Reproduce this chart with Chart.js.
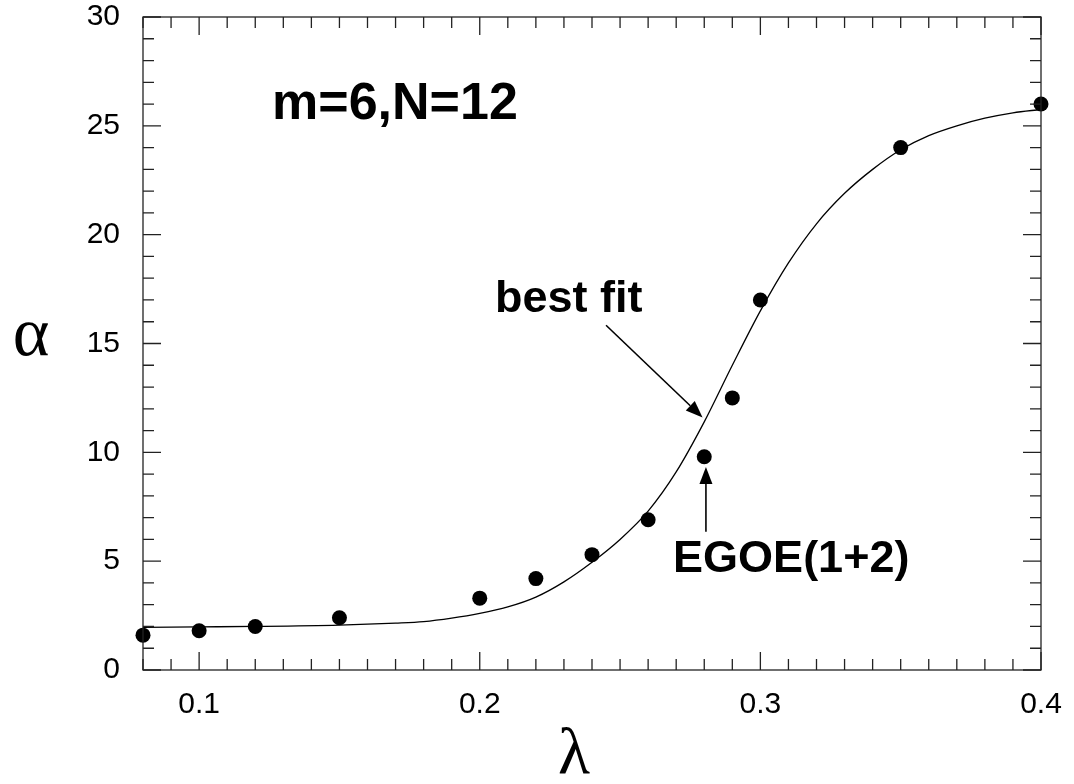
<!DOCTYPE html>
<html>
<head>
<meta charset="utf-8">
<script src="https://cdn.jsdelivr.net/npm/chart.js@4/dist/chart.umd.min.js"></script>
<style>
    body { margin: 0; background: #fff; }
    canvas { display: block; }
</style>
</head>
<body>
<canvas id="alphaChart" width="1074" height="784"></canvas>
<script>
// EGOE(1+2) results, alpha vs lambda
const lambdaVals = [0.08, 0.10, 0.12, 0.15, 0.20, 0.22, 0.24, 0.26, 0.28, 0.29, 0.30, 0.35, 0.40];
const alphaVals  = [1.6, 1.8, 2.0, 2.4, 3.3, 4.2, 5.3, 6.9, 9.8, 12.5, 17.0, 24.0, 26.0];

// best fit curve, sampled
const fitX = [0.08, 0.10, 0.12, 0.15, 0.17, 0.18, 0.19, 0.20, 0.21, 0.22, 0.23, 0.24, 0.25, 0.26, 0.27, 0.28, 0.29, 0.30, 0.31, 0.32, 0.33, 0.34, 0.35, 0.36, 0.37, 0.38, 0.39, 0.40];
const fitY = [1.96, 1.98, 2.0, 2.06, 2.15, 2.22, 2.38, 2.6, 2.9, 3.35, 4.05, 4.95, 6.0, 7.3, 9.1, 11.4, 14.0, 16.5, 18.7, 20.5, 21.9, 23.0, 23.9, 24.55, 25.0, 25.35, 25.6, 25.75];

const xTickLabels = [0.1, 0.2, 0.3, 0.4];
const yTickLabels = [0, 5, 10, 15, 20, 25, 30];

const TICK_FONT = { family: "'Liberation Sans', Arial, sans-serif", size: 30 };
const MAJOR_LEN = 18;
const MINOR_LEN = 11;

function arrow(ctx, x1, y1, x2, y2) {
    const ang = Math.atan2(y2 - y1, x2 - x1);
    const len = 17, half = 6.5;
    const bx = x2 - len * Math.cos(ang), by = y2 - len * Math.sin(ang);
    ctx.beginPath();
    ctx.moveTo(x1, y1);
    ctx.lineTo(bx, by);
    ctx.stroke();
    ctx.beginPath();
    ctx.moveTo(x2, y2);
    ctx.lineTo(bx + half * Math.sin(ang), by - half * Math.cos(ang));
    ctx.lineTo(bx - half * Math.sin(ang), by + half * Math.cos(ang));
    ctx.closePath();
    ctx.fill();
}

// frame with inward ticks on all sides, labels, arrows
const framePlugin = {
    id: "frame",
    afterDraw(chart) {
        const { ctx, chartArea: a, scales: { x, y } } = chart;
        ctx.save();
        ctx.strokeStyle = "#222";
        ctx.fillStyle = "#000";
        ctx.lineWidth = 1.3;
        ctx.strokeRect(a.left, a.top, a.right - a.left, a.bottom - a.top);

        ctx.beginPath();
        for (let i = 8; i <= 40; i++) {
            const px = x.getPixelForValue(i / 100);
            const len = i % 10 === 0 ? MAJOR_LEN : MINOR_LEN;
            ctx.moveTo(px, a.bottom); ctx.lineTo(px, a.bottom - len);
            ctx.moveTo(px, a.top); ctx.lineTo(px, a.top + len);
        }
        for (let v = 0; v <= 30; v++) {
            const py = y.getPixelForValue(v);
            const len = v % 5 === 0 ? MAJOR_LEN : MINOR_LEN;
            ctx.moveTo(a.left, py); ctx.lineTo(a.left + len, py);
            ctx.moveTo(a.right, py); ctx.lineTo(a.right - len, py);
        }
        ctx.stroke();

        // annotations
        ctx.fillStyle = "#000";
        ctx.textAlign = "left";
        ctx.textBaseline = "alphabetic";
        ctx.font = "bold 52px 'Liberation Sans', Arial, sans-serif";
        ctx.fillText("m=6,N=12", x.getPixelForValue(0.126), y.getPixelForValue(25.3));
        ctx.font = "bold 45px 'Liberation Sans', Arial, sans-serif";
        ctx.fillText("best fit", x.getPixelForValue(0.2054), y.getPixelForValue(16.44));
        ctx.fillText("EGOE(1+2)", x.getPixelForValue(0.2689), y.getPixelForValue(4.5));

        ctx.strokeStyle = "#000";
        ctx.lineWidth = 1.6;
        arrow(ctx, x.getPixelForValue(0.245), y.getPixelForValue(15.84),
                   x.getPixelForValue(0.2794), y.getPixelForValue(11.6));
        arrow(ctx, x.getPixelForValue(0.2806), y.getPixelForValue(6.35),
                   x.getPixelForValue(0.2806), y.getPixelForValue(9.33));

        // axis symbols
        ctx.textAlign = "center";
        ctx.textBaseline = "middle";
        ctx.font = "70px 'Liberation Serif', 'Times New Roman', serif";
        ctx.fillText("\u03b1", 31, y.getPixelForValue(15.3));
        ctx.font = "66px 'Liberation Serif', 'Times New Roman', serif";
        ctx.fillText("\u03bb", (a.left + a.right) / 2 - 18, 756);
        ctx.restore();
    }
};

new Chart(document.getElementById("alphaChart"), {
    type: "scatter",
    data: {
        datasets: [
            {
                label: "best fit",
                data: fitX.map((v, i) => ({ x: v, y: fitY[i] })),
                showLine: true,
                borderColor: "#000",
                borderWidth: 1.3,
                pointRadius: 0,
                cubicInterpolationMode: "monotone",
            },
            {
                label: "EGOE(1+2)",
                data: lambdaVals.map((v, i) => ({ x: v, y: alphaVals[i] })),
                backgroundColor: "#000",
                borderColor: "#000",
                pointRadius: 7.5,
                borderWidth: 0,
            }
        ]
    },
    options: {
        responsive: false,
        animation: false,
        clip: false,
        layout: { padding: { top: 17, right: 33, left: 0, bottom: 0 } },
        plugins: { legend: { display: false }, tooltip: { enabled: false } },
        scales: {
            x: {
                type: "linear",
                min: 0.08,
                max: 0.4,
                grid: { display: false, drawTicks: false },
                border: { display: false },
                afterBuildTicks: s => { s.ticks = xTickLabels.map(v => ({ value: v })); },
                afterFit: s => {
                    s.height = 114;
                    s.paddingLeft = 0;
                    s.paddingRight = 0;
                },
                ticks: {
                    color: "#000",
                    font: TICK_FONT,
                    padding: 17,
                    maxRotation: 0,
                    autoSkip: false,
                    callback: v => String(v),
                }
            },
            y: {
                min: 0,
                max: 30,
                grid: { display: false, drawTicks: false },
                border: { display: false },
                afterBuildTicks: s => { s.ticks = yTickLabels.map(v => ({ value: v })); },
                afterFit: s => {
                    s.width = 143;
                    s.paddingTop = 0;
                    s.paddingBottom = 0;
                },
                ticks: {
                    color: "#000",
                    font: TICK_FONT,
                    padding: 23,
                    autoSkip: false,
                    callback: v => String(v),
                }
            }
        }
    },
    plugins: [framePlugin]
});
</script>
</body>
</html>
